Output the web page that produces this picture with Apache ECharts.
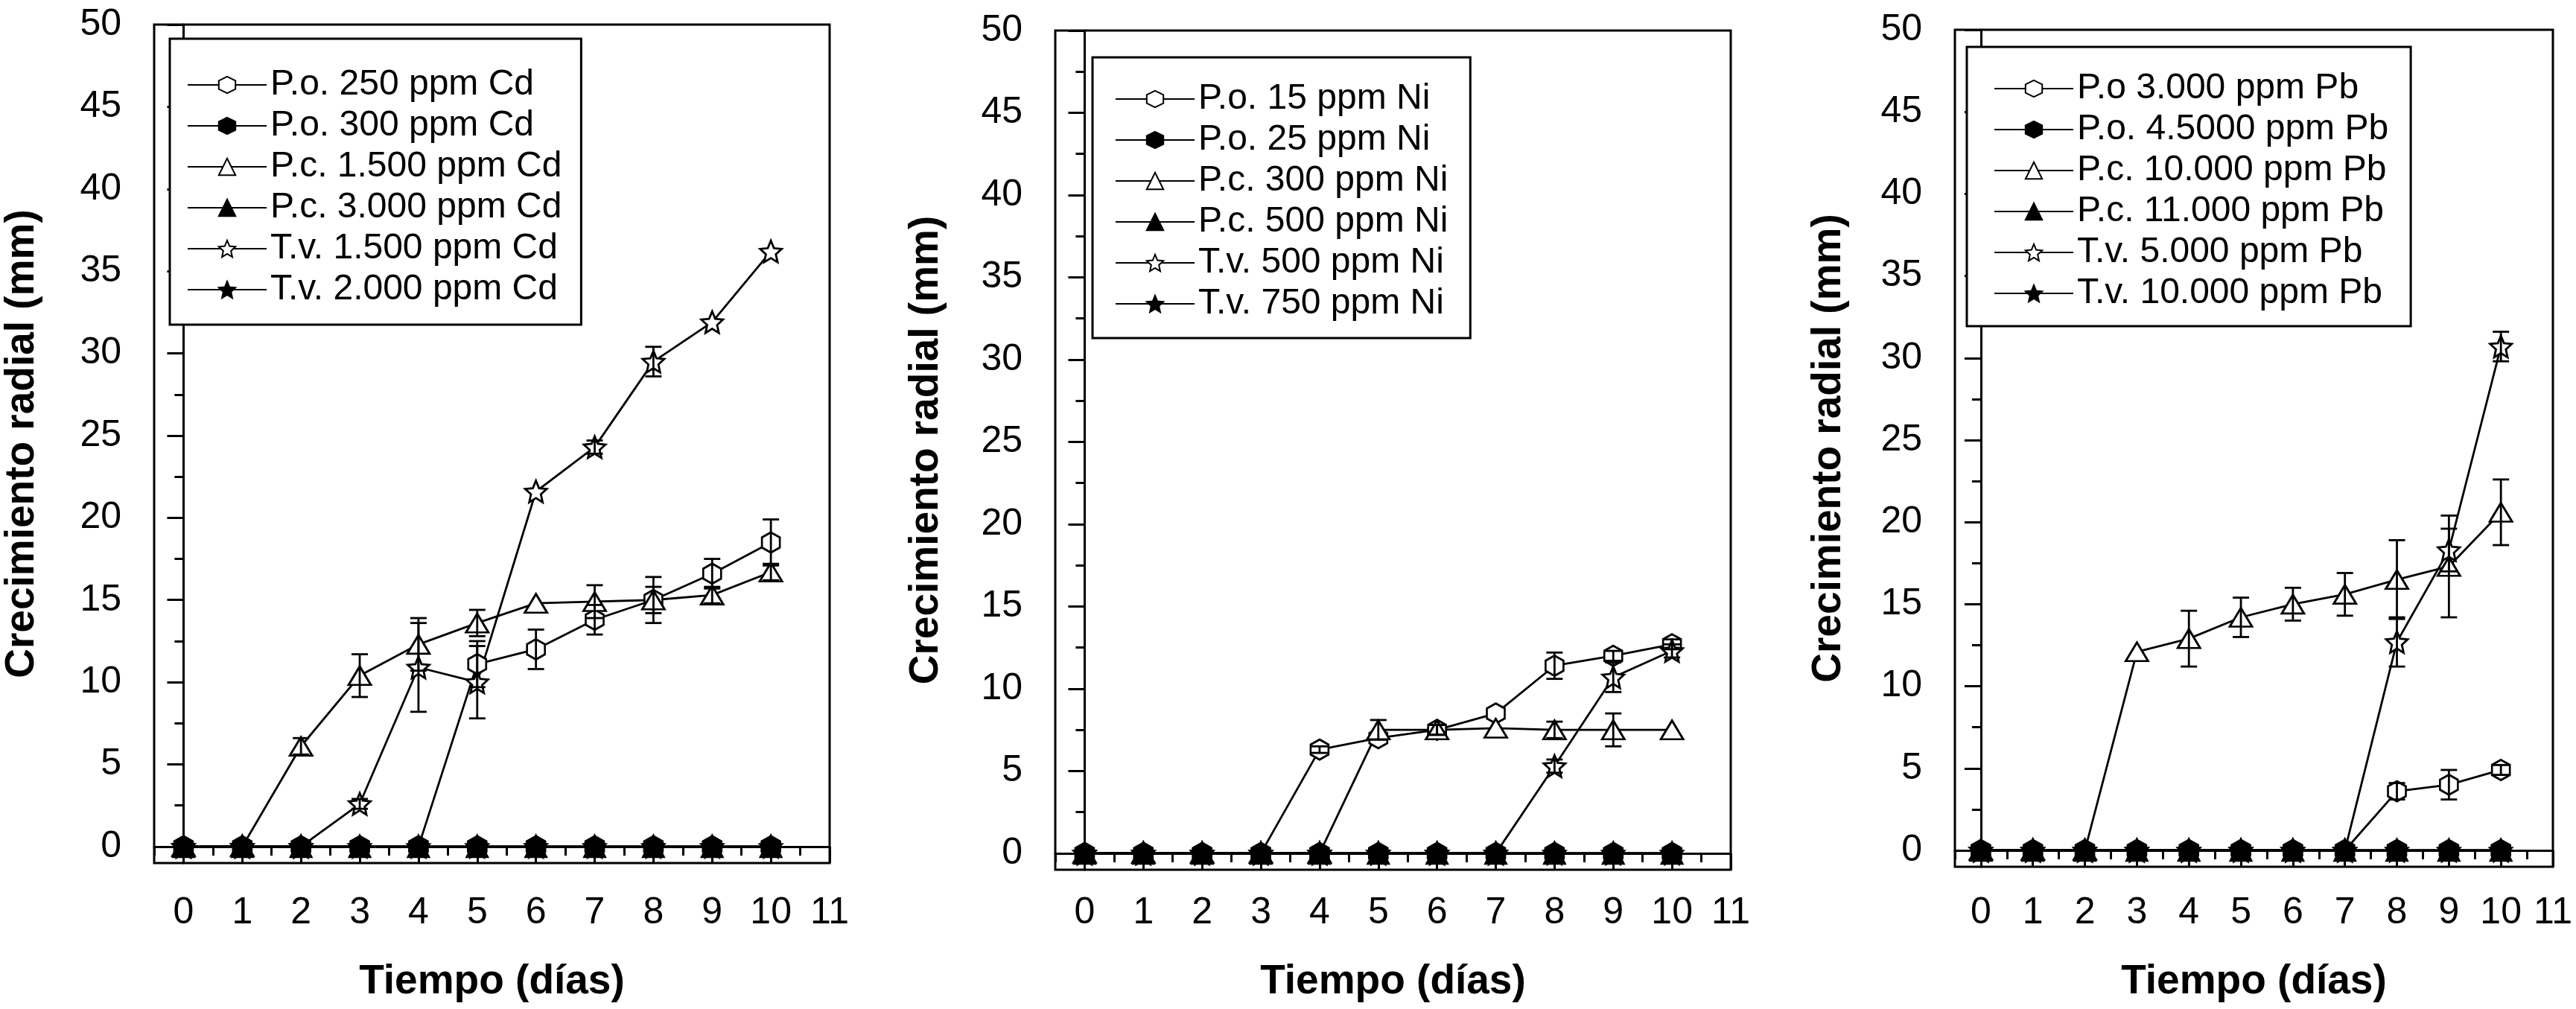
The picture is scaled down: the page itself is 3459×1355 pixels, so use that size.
<!DOCTYPE html>
<html>
<head>
<meta charset="utf-8">
<script src="https://cdn.jsdelivr.net/npm/echarts@6/dist/echarts.min.js"></script>
<style>
  html, body { margin: 0; padding: 0; background: #fff; }
  #chart { width: 3459px; height: 1355px; }
</style>
</head>
<body>
<div id="chart"></div>
<script>
// ---------- data ----------
const days = [0, 1, 2, 3, 4, 5, 6, 7, 8, 9, 10];
const xTickLabels = [0, 1, 2, 3, 4, 5, 6, 7, 8, 9, 10, 11];
const xMinorTicks = [-0.5, 0.5, 1.5, 2.5, 3.5, 4.5, 5.5, 6.5, 7.5, 8.5, 9.5, 10.5];
const yTickLabels = [0, 5, 10, 15, 20, 25, 30, 35, 40, 45, 50];
const yMinorTicks = [2.5, 7.5, 12.5, 17.5, 22.5, 27.5, 32.5, 37.5, 42.5, 47.5];

// Cd panel
const cdNames = ['P.o. 250 ppm Cd', 'P.o. 300 ppm Cd', 'P.c. 1.500 ppm Cd', 'P.c. 3.000 ppm Cd', 'T.v. 1.500 ppm Cd', 'T.v. 2.000 ppm Cd'];
const cdPo250 = [0, 0, 0, 0, 0, 11.1, 12.0, 13.8, 15.0, 16.6, 18.5];
const cdPo250Err = [0, 0, 0, 0, 0, 1.4, 1.2, 0.9, 1.4, 0.9, 1.4];
const cdPo300 = [0, 0, 0, 0, 0, 0, 0, 0, 0, 0, 0];
const cdPc1500 = [0, 0, 6.1, 10.4, 12.3, 13.6, 14.8, 14.9, 15.0, 15.3, 16.7];
const cdPc1500Err = [0, 0, 0.5, 1.3, 1.6, 0.8, 0, 1.0, 0.8, 0.5, 0.5];
const cdPc3000 = [0, 0, 0, 0, 0, 0, 0, 0, 0, 0, 0];
const cdTv1500 = [0, 0, 0, 2.6, 10.9, 10.0, 21.6, 24.3, 29.5, 31.9, 36.2];
const cdTv1500Err = [0, 0, 0, 0.3, 2.7, 2.2, 0, 0.4, 0.9, 0, 0];
const cdTv2000 = [0, 0, 0, 0, 0, 0, 0, 0, 0, 0, 0];

// Ni panel
const niNames = ['P.o. 15 ppm Ni', 'P.o. 25 ppm Ni', 'P.c. 300 ppm Ni', 'P.c. 500 ppm Ni', 'T.v. 500 ppm Ni', 'T.v. 750 ppm Ni'];
const niPo15 = [0, 0, 0, 0, 6.3, 7.0, 7.5, 8.5, 11.4, 12.0, 12.7];
const niPo15Err = [0, 0, 0, 0, 0.2, 0, 0.3, 0, 0.8, 0.3, 0.3];
const niPo25 = [0, 0, 0, 0, 0, 0, 0, 0, 0, 0, 0];
const niPc300 = [0, 0, 0, 0, 0, 7.5, 7.5, 7.6, 7.5, 7.5, 7.5];
const niPc300Err = [0, 0, 0, 0, 0, 0.6, 0.3, 0, 0.5, 1.0, 0];
const niPc500 = [0, 0, 0, 0, 0, 0, 0, 0, 0, 0, 0];
const niTv500 = [0, 0, 0, 0, 0, 0, 0, 0, 5.3, 10.7, 12.3];
const niTv500Err = [0, 0, 0, 0, 0, 0, 0, 0, 0.4, 0.9, 0.4];
const niTv750 = [0, 0, 0, 0, 0, 0, 0, 0, 0, 0, 0];

// Pb panel
const pbNames = ['P.o 3.000 ppm Pb', 'P.o. 4.5000 ppm Pb', 'P.c. 10.000 ppm Pb', 'P.c. 11.000 ppm Pb', 'T.v. 5.000 ppm Pb', 'T.v. 10.000 ppm Pb'];
const pbPo3000 = [0, 0, 0, 0, 0, 0, 0, 0, 3.6, 4.0, 4.9];
const pbPo3000Err = [0, 0, 0, 0, 0, 0, 0, 0, 0.5, 0.9, 0.3];
const pbPo4500 = [0, 0, 0, 0, 0, 0, 0, 0, 0, 0, 0];
const pbPc10000 = [0, 0, 0, 12.1, 12.9, 14.2, 15.0, 15.6, 16.5, 17.3, 20.6];
const pbPc10000Err = [0, 0, 0, 0, 1.7, 1.2, 1.0, 1.3, 2.4, 3.1, 2.0];
const pbPc11000 = [0, 0, 0, 0, 0, 0, 0, 0, 0, 0, 0];
const pbTv5000 = [0, 0, 0, 0, 0, 0, 0, 0, 12.7, 18.3, 30.7];
const pbTv5000Err = [0, 0, 0, 0, 0, 0, 0, 0, 1.5, 1.3, 0.9];
const pbTv10000 = [0, 0, 0, 0, 0, 0, 0, 0, 0, 0, 0];

const xTitle = 'Tiempo (días)';
const yTitle = 'Crecimiento radial (mm)';

// ---------- styling ----------
const FONT = "'Liberation Sans', Arial, Helvetica, sans-serif";
const HEX = 'path://M0,-1L0.866,-0.5L0.866,0.5L0,1L-0.866,0.5L-0.866,-0.5Z';
const STAR = 'path://M0,-1L0.27,-0.37L0.951,-0.309L0.437,0.142L0.588,0.809L0,0.46L-0.588,0.809L-0.437,0.142L-0.951,-0.309L-0.27,-0.37Z';
const markers = [
  { symbol: HEX, size: [24, 27], fill: '#fff' },
  { symbol: HEX, size: [25, 28], fill: '#000' },
  { symbol: 'triangle', size: [30, 25], fill: '#fff' },
  { symbol: 'triangle', size: [28, 28], fill: '#000' },
  { symbol: STAR, size: [29, 29], fill: '#fff' },
  { symbol: STAR, size: [29, 29], fill: '#000' }
];

const panels = [
  { names: cdNames, values: [cdPo250, cdPo300, cdPc1500, cdPc3000, cdTv1500, cdTv2000],
    errs: [cdPo250Err, null, cdPc1500Err, null, cdTv1500Err, null],
    grid: { left: 207, top: 33, width: 907, height: 1126 },
    legend: { left: 228, top: 52, padding: [38, 26, 23, 23] },
    xLabelMargin: 42, xNameGap: 132, yNameGap: 150 },
  { names: niNames, values: [niPo15, niPo25, niPc300, niPc500, niTv500, niTv750],
    errs: [niPo15Err, null, niPc300Err, null, niTv500Err, null],
    grid: { left: 1417, top: 41, width: 907, height: 1127 },
    legend: { left: 1467, top: 77, padding: [32, 30, 22, 30] },
    xLabelMargin: 33, xNameGap: 123, yNameGap: 146 },
  { names: pbNames, values: [pbPo3000, pbPo4500, pbPc10000, pbPc11000, pbTv5000, pbTv10000],
    errs: [pbPo3000Err, null, pbPc10000Err, null, pbTv5000Err, null],
    grid: { left: 2625, top: 40, width: 803, height: 1124 },
    legend: { left: 2641, top: 63, padding: [32, 30, 20, 36] },
    xLabelMargin: 37, xNameGap: 127, yNameGap: 142 }
];

const axisLine = { show: true, lineStyle: { color: '#000', width: 3 } };
const grids = [], xAxes = [], yAxes = [], series = [], legends = [];

panels.forEach((p, gi) => {
  grids.push(Object.assign({ show: true, borderColor: '#000', borderWidth: 3, backgroundColor: 'transparent', containLabel: false }, p.grid));
  xAxes.push({
    type: 'value', gridIndex: gi, min: -0.5, max: 11, position: 'bottom',
    axisLine: axisLine,
    axisTick: { show: true, customValues: xTickLabels, length: 22, lineStyle: { color: '#000', width: 3 } },
    axisLabel: { show: true, customValues: xTickLabels, margin: p.xLabelMargin, fontSize: 50, color: '#000', fontFamily: FONT },
    splitLine: { show: false },
    name: xTitle, nameLocation: 'middle', nameGap: p.xNameGap,
    nameTextStyle: { fontSize: 55, fontWeight: 'bold', color: '#000', fontFamily: FONT }
  });
  xAxes.push({
    type: 'value', gridIndex: gi, min: -0.5, max: 11, position: 'bottom', offset: 0,
    axisLine: { show: false },
    axisTick: { show: true, customValues: xMinorTicks, length: 12, lineStyle: { color: '#000', width: 3 } },
    axisLabel: { show: false }, splitLine: { show: false }
  });
  yAxes.push({
    type: 'value', gridIndex: gi, min: -1, max: 50, position: 'left',
    axisLine: axisLine,
    axisTick: { show: true, customValues: yTickLabels, length: 22, lineStyle: { color: '#000', width: 3 } },
    axisLabel: { show: true, customValues: yTickLabels, margin: 44, fontSize: 50, color: '#000', fontFamily: FONT },
    splitLine: { show: false },
    name: yTitle, nameLocation: 'middle', nameGap: p.yNameGap,
    nameTextStyle: { fontSize: 55, fontWeight: 'bold', color: '#000', fontFamily: FONT }
  });
  yAxes.push({
    type: 'value', gridIndex: gi, min: -1, max: 50, position: 'left', offset: 0,
    axisLine: { show: false },
    axisTick: { show: true, customValues: yMinorTicks, length: 12, lineStyle: { color: '#000', width: 3 } },
    axisLabel: { show: false }, splitLine: { show: false }
  });
  const xi = gi * 2, yi = gi * 2;
  const order = [0, 2, 4, 1, 3, 5];
  order.forEach((k) => {
    const m = markers[k];
    series.push({
      type: 'line', name: p.names[k], xAxisIndex: xi, yAxisIndex: yi,
      data: days.map((d, i) => [d, p.values[k][i]]),
      symbol: m.symbol, symbolSize: m.size, showSymbol: true,
      lineStyle: { color: '#000', width: 2.8 },
      itemStyle: { color: m.fill, borderColor: '#000', borderWidth: 2.8 },
      z: m.fill === '#000' ? 4 : 3,
      silent: true, animation: false, emphasis: { disabled: true }
    });
  });
  p.errs.forEach((errArr, k) => {
    if (!errArr) return;
    series.push({
      type: 'custom', xAxisIndex: xi, yAxisIndex: yi, z: 5, silent: true, animation: false,
      data: days.map((d, i) => [d, p.values[k][i], errArr[i]]).filter(r => r[2] > 0),
      renderItem: function (params, api) {
        const x = api.value(0), y = api.value(1), e = api.value(2);
        const a = api.coord([x, y + e]), b = api.coord([x, y - e]);
        const hw = 11, st = { stroke: '#000', lineWidth: 2.8 };
        return { type: 'group', children: [
          { type: 'line', shape: { x1: a[0], y1: a[1], x2: b[0], y2: b[1] }, style: st },
          { type: 'line', shape: { x1: a[0] - hw, y1: a[1], x2: a[0] + hw, y2: a[1] }, style: st },
          { type: 'line', shape: { x1: b[0] - hw, y1: b[1], x2: b[0] + hw, y2: b[1] }, style: st }
        ]};
      }
    });
  });
  legends.push({
    orient: 'vertical', left: p.legend.left, top: p.legend.top, padding: p.legend.padding,
    data: p.names, itemWidth: 106, itemHeight: 28, itemGap: 7,
    borderColor: '#000', borderWidth: 3, backgroundColor: '#fff',
    selectedMode: false, inactiveColor: '#000',
    textStyle: { fontSize: 48, lineHeight: 48, color: '#000', fontFamily: FONT }
  });
});

const chart = echarts.init(document.getElementById('chart'), null, { renderer: 'canvas' });
chart.setOption({
  backgroundColor: '#fff',
  animation: false,
  textStyle: { fontFamily: FONT },
  grid: grids, xAxis: xAxes, yAxis: yAxes, legend: legends, series: series
});
</script>
</body>
</html>
